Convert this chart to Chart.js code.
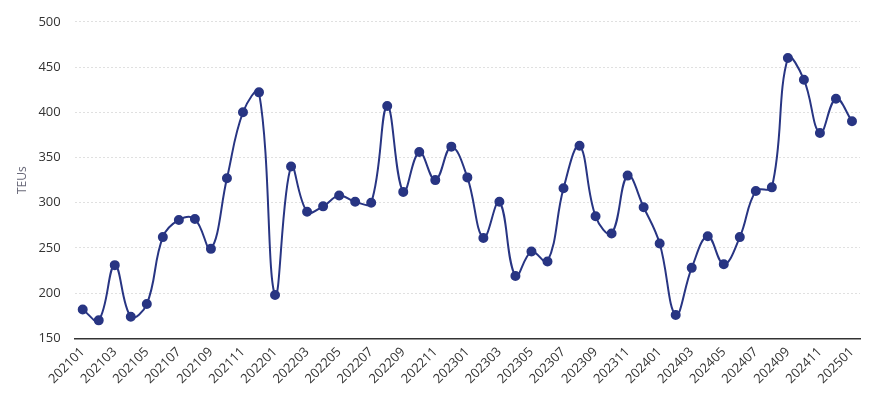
<!DOCTYPE html>
<html>
<head>
<meta charset="utf-8">
<script src="https://cdn.jsdelivr.net/npm/chart.js@4/dist/chart.umd.min.js"></script>
<style>
    html, body { margin: 0; padding: 0; background: #fff; }
    #wrap { width: 877px; height: 393px; }
</style>
</head>
<body>
<div id="wrap"><canvas id="teuChart"></canvas></div>
<script>
const months = [
    "202101", "202102", "202103", "202104", "202105", "202106", "202107", "202108", "202109", "202110", "202111", "202112",
    "202201", "202202", "202203", "202204", "202205", "202206", "202207", "202208", "202209", "202210", "202211", "202212",
    "202301", "202302", "202303", "202304", "202305", "202306", "202307", "202308", "202309", "202310", "202311", "202312",
    "202401", "202402", "202403", "202404", "202405", "202406", "202407", "202408", "202409", "202410", "202411", "202412",
    "202501"
];
const teus = [
    182, 170, 231, 174, 188, 262, 281, 282, 249, 327, 400, 422,
    198, 340, 290, 296, 308, 301, 300, 407, 312, 356, 325, 362,
    328, 261, 301, 219, 246, 235, 316, 363, 285, 266, 330, 295,
    255, 176, 228, 263, 232, 262, 313, 317, 460, 436, 377, 415,
    390
];
const yTicks = { min: 150, max: 500, step: 50 };

document.addEventListener("DOMContentLoaded", function () {
    const ctx = document.getElementById("teuChart");
    Chart.defaults.font.family = "'Open Sans', 'Noto Sans', sans-serif";
    Chart.defaults.font.size = 13;

    new Chart(ctx, {
        type: 'line',
        data: {
            labels: months,
            datasets: [{
                label: 'TEUs',
                data: teus,
                borderColor: '#283583',
                backgroundColor: '#283583',
                borderWidth: 2,
                pointRadius: 4,
                pointHoverRadius: 5,
                tension: 0.4,
                fill: false
            }]
        },
        options: {
            responsive: true,
            maintainAspectRatio: false,
            animation: false,
            layout: { padding: { top: 1, right: 17, left: 6, bottom: 0 } },
            plugins: {
                legend: { display: false },
                tooltip: { enabled: false }
            },
            scales: {
                x: {
                    offset: true,
                    grid: { display: false, drawTicks: false },
                    border: { display: true, color: '#333', width: 1.5 },
                    ticks: {
                        color: '#333',
                        autoSkip: false,
                        maxRotation: 45,
                        minRotation: 45,
                        padding: 6,
                        callback: function (value, index) {
                            return index % 2 === 0 ? this.getLabelForValue(value) : null;
                        }
                    }
                },
                y: {
                    min: yTicks.min,
                    max: yTicks.max,
                    title: { display: true, text: 'TEUs', color: '#6a6a7a', font: { size: 12 }, padding: { top: 9, bottom: -5 } },
                    grid: { color: '#e0e0e0', drawTicks: false, lineWidth: 1 },
                    border: { display: false, dash: [2, 2] },
                    ticks: { stepSize: yTicks.step, color: '#333', padding: 14 }
                }
            }
        }
    });
});
</script>
</body>
</html>
